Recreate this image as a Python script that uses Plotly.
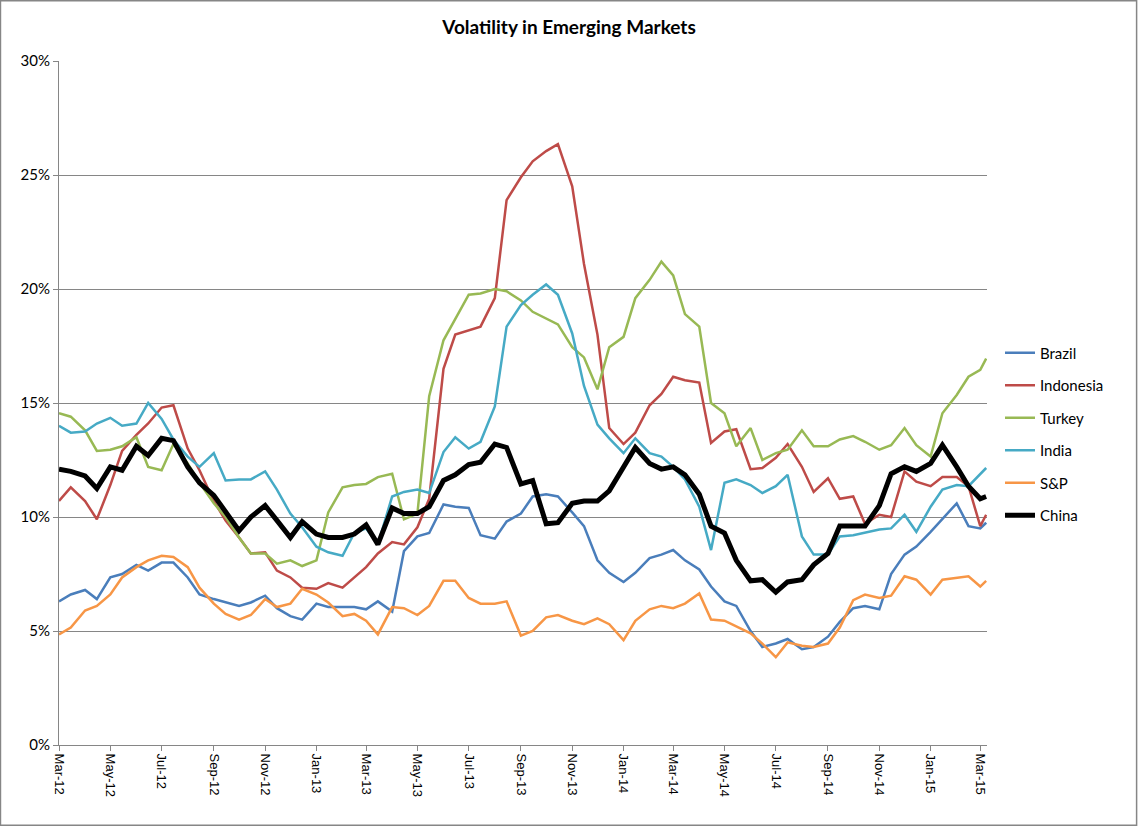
import pandas as pd
import plotly.graph_objects as go

# Semi-monthly observation dates (Mar-2012 .. early Mar-2015)
dates = []
for y in (2012, 2013, 2014, 2015):
    for m in range(1, 13):
        for d in (1, 15):
            dt = pd.Timestamp(y, m, d)
            if pd.Timestamp(2012, 3, 1) <= dt <= pd.Timestamp(2015, 3, 1):
                dates.append(dt)
dates.append(pd.Timestamp(2015, 3, 8))

brazil = [6.3, 6.6, 6.8, 6.4, 7.35, 7.5, 7.9, 7.65, 8.0, 8.0,
          7.35, 6.6, 6.4, 6.25, 6.1, 6.25, 6.55, 6.0, 5.65, 5.5,
          6.2, 6.05, 6.05, 6.05, 5.95, 6.3, 5.85, 8.5, 9.15, 9.3,
          10.55, 10.45, 10.4, 9.2, 9.05, 9.8, 10.15, 10.9, 11.0, 10.9,
          10.2, 9.6, 8.1, 7.55, 7.15, 7.55, 8.2, 8.35, 8.55, 8.1,
          7.7, 6.95, 6.3, 6.1, 5.0, 4.3, 4.45, 4.65, 4.2, 4.3,
          4.75, 5.4, 6.0, 6.1, 5.95, 7.5, 8.35, 8.7, 9.35, 9.9,
          10.6, 9.6, 9.5, 9.75]

indonesia = [10.7, 11.3, 10.7, 9.9, 11.4, 12.9, 13.6, 14.1, 14.8, 14.9,
             13.0, 12.05, 10.7, 9.85, 9.1, 8.4, 8.45, 7.65, 7.35, 6.9,
             6.85, 7.1, 6.9, 7.35, 7.8, 8.4, 8.9, 8.8, 9.55, 10.8,
             16.5, 18.0, 18.2, 18.35, 19.6, 23.9, 24.9, 25.6, 26.05, 26.35,
             24.5, 21.1, 18.0, 13.9, 13.2, 13.7, 14.9, 15.4, 16.15, 16.0,
             15.9, 13.25, 13.75, 13.85, 12.1, 12.15, 12.6, 13.2, 12.2, 11.1,
             11.7, 10.8, 10.9, 9.7, 10.1, 10.0, 12.0, 11.55, 11.35, 11.75,
             11.75, 11.35, 9.6, 10.1]

turkey = [14.55, 14.4, 13.8, 12.9, 12.95, 13.1, 13.5, 12.2, 12.05, 13.2,
          12.35, 11.5, 10.6, 10.0, 9.1, 8.4, 8.4, 7.95, 8.1, 7.85,
          8.1, 10.2, 11.3, 11.4, 11.45, 11.75, 11.9, 9.9, 10.15, 15.3,
          17.75, 18.7, 19.75, 19.8, 20.0, 19.9, 19.5, 19.0, 18.7, 18.45,
          17.45, 17.0, 15.6, 17.45, 17.9, 19.6, 20.4, 21.2, 20.6, 18.9,
          18.35, 15.0, 14.55, 13.1, 13.9, 12.5, 12.8, 12.95, 13.8, 13.1,
          13.1, 13.4, 13.55, 13.3, 12.95, 13.15, 13.9, 13.15, 12.65, 14.55,
          15.35, 16.15, 16.45, 16.95]

india = [14.0, 13.7, 13.75, 14.1, 14.35, 14.0, 14.1, 15.0, 14.3, 13.4,
         12.65, 12.2, 12.8, 11.6, 11.65, 11.65, 12.0, 11.2, 10.15, 9.55,
         8.7, 8.45, 8.3, 9.3, 9.5, 8.8, 10.9, 11.1, 11.2, 11.05,
         12.85, 13.5, 13.0, 13.3, 14.85, 18.35, 19.3, 19.75, 20.2, 19.75,
         18.05, 15.75, 14.05, 13.45, 12.8, 13.45, 12.8, 12.65, 12.2, 11.65,
         10.45, 8.55, 11.5, 11.65, 11.4, 11.05, 11.35, 11.85, 9.15, 8.35,
         8.35, 9.15, 9.2, 9.3, 9.45, 9.5, 10.1, 9.35, 10.45, 11.2,
         11.4, 11.35, 11.9, 12.15]

sp = [4.85, 5.15, 5.9, 6.1, 6.6, 7.35, 7.8, 8.1, 8.3, 8.25,
      7.8, 6.9, 6.2, 5.75, 5.5, 5.7, 6.4, 6.05, 6.2, 6.85,
      6.6, 6.25, 5.65, 5.75, 5.45, 4.85, 6.05, 6.0, 5.7, 6.1,
      7.2, 7.2, 6.45, 6.2, 6.2, 6.3, 4.8, 5.0, 5.6, 5.7,
      5.45, 5.3, 5.55, 5.3, 4.6, 5.45, 5.95, 6.1, 6.0, 6.2,
      6.65, 5.5, 5.45, 5.2, 4.9, 4.45, 3.85, 4.5, 4.35, 4.3,
      4.45, 5.15, 6.35, 6.6, 6.45, 6.55, 7.4, 7.25, 6.6, 7.25,
      7.35, 7.4, 6.95, 7.2]

china = [12.1, 12.0, 11.8, 11.25, 12.2, 12.05, 13.1, 12.7, 13.45, 13.35,
         12.2, 11.5, 10.95, 10.2, 9.4, 10.0, 10.5, 9.85, 9.1, 9.8,
         9.25, 9.1, 9.1, 9.25, 9.65, 8.8, 10.4, 10.15, 10.15, 10.45,
         11.6, 11.85, 12.3, 12.4, 13.2, 13.05, 11.45, 11.6, 9.7, 9.75,
         10.6, 10.7, 10.7, 11.15, 12.15, 13.05, 12.35, 12.1, 12.2, 11.85,
         11.0, 9.6, 9.3, 8.1, 7.2, 7.25, 6.7, 7.15, 7.25, 7.9,
         8.4, 9.6, 9.6, 9.6, 10.5, 11.9, 12.2, 12.0, 12.35, 13.15,
         12.2, 11.35, 10.8, 10.9]

series_names = ["Brazil", "Indonesia", "Turkey", "India", "S&P", "China"]
series_values = [brazil, indonesia, turkey, india, sp, china]
series_colors = ["#4A7EBB", "#BE4B48", "#98B954", "#46AAC5", "#F79646", "#000000"]
series_widths = [2.5, 2.5, 2.5, 2.5, 2.5, 5]

tick_dates = pd.date_range("2012-03-01", "2015-03-01", freq="2MS")

fig = go.Figure()
for name, vals, col, w in zip(series_names, series_values, series_colors, series_widths):
    fig.add_trace(go.Scatter(
        x=dates, y=vals, name=name, mode="lines", legendgroup=name,
        line=dict(color=col, width=w),
    ))

W, H = 1138, 826
L, R, T, B = 59, 151, 61, 81
pw, ph = W - L - R, H - T - B

fig.update_layout(
    width=W, height=H,
    margin=dict(l=L, r=R, t=T, b=B, pad=0),
    paper_bgcolor="white", plot_bgcolor="white",
    title=dict(text="<b>Volatility in Emerging Markets</b>", x=0.5, xanchor="center",
               y=1 - 27 / H, yanchor="middle",
               font=dict(family="Lato, Carlito, Calibri, sans-serif", size=19, color="#000000")),
    showlegend=True,
    legend=dict(x=(1000 - L) / pw, xanchor="left", y=(745 - 434) / ph, yanchor="middle",
                font=dict(family="Lato, Carlito, Calibri, sans-serif", size=15, color="#000000"),
                tracegroupgap=10, bgcolor="rgba(0,0,0,0)", itemwidth=30),
    xaxis=dict(
        type="date", range=["2012-03-01", "2015-03-09"],
        tickvals=list(tick_dates), tickformat="%b-%y", tickangle=90,
        ticks="outside", ticklen=5, tickcolor="#868686",
        showline=True, linecolor="#868686", linewidth=1,
        showgrid=False, zeroline=False,
        tickfont=dict(family="Liberation Sans, Arial, sans-serif", size=13, color="#000000"),
    ),
    yaxis=dict(
        range=[0, 30], dtick=5, ticksuffix="%",
        ticks="outside", ticklen=5, tickcolor="#868686",
        showline=True, linecolor="#868686", linewidth=1,
        showgrid=True, gridcolor="#868686", gridwidth=1, zeroline=False,
        tickfont=dict(family="Lato, Carlito, Calibri, sans-serif", size=15, color="#000000"),
    ),
    shapes=[dict(type="rect", xref="paper", yref="paper",
                 x0=-L / pw + 0.0005, x1=1 + R / pw - 0.0015,
                 y0=-B / ph + 0.001, y1=1 + T / ph - 0.001,
                 line=dict(color="#868686", width=1.5), fillcolor="rgba(0,0,0,0)", layer="below")],
)

fig.write_html("out.html", config={"displayModeBar": False},
               post_script="document.body.style.margin='0';document.body.style.overflow='hidden';")
